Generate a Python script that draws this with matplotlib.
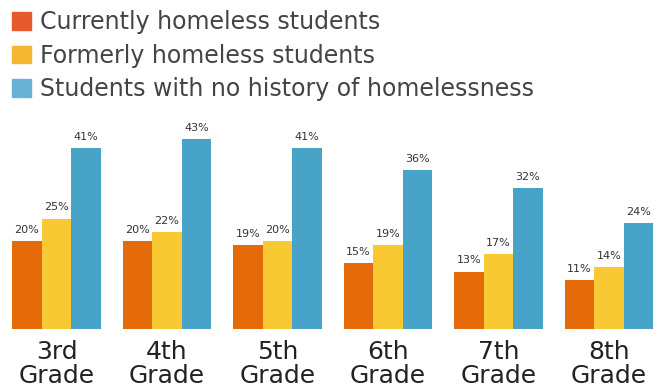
import numpy as np
import matplotlib.pyplot as plt
from matplotlib.patches import Patch

# data
grades = ["3rd\nGrade", "4th\nGrade", "5th\nGrade", "6th\nGrade", "7th\nGrade", "8th\nGrade"]
current = [20, 20, 19, 15, 13, 11]
former = [25, 22, 20, 19, 17, 14]
never = [41, 43, 41, 36, 32, 24]
series_names = ["Currently homeless students", "Formerly homeless students",
                "Students with no history of homelessness"]

bar_colors = ["#E56B0A", "#F9C933", "#47A3C8"]
legend_colors = ["#E55B2F", "#F5B731", "#6AB2D4"]
text_color = "#333333"

fig = plt.figure(figsize=(6.61, 3.88), dpi=100)
ax = fig.add_axes([0, 59 / 388, 1, 329 / 388])

x = np.arange(len(grades))
w = 0.267
for k, vals in enumerate([current, former, never]):
    pos = x + (k - 1) * w
    bars = ax.bar(pos, vals, width=w, color=bar_colors[k], linewidth=0)
    for b, v in zip(bars, vals):
        ax.annotate(f"{v}%", (b.get_x() + b.get_width() / 2, v),
                    xytext=(0, 4.5), textcoords="offset points",
                    ha="center", va="bottom", fontsize=8, color=text_color)

ax.set_xlim(-56.5 / 110.5, (661 - 56.5) / 110.5)
ax.set_ylim(0, 329 / 4.41)
ax.set_xticks(x)
ax.set_xticklabels(grades, fontsize=18, color="#222222", linespacing=1.0)
ax.tick_params(axis="x", length=0, pad=8)
ax.set_yticks([])
for s in ax.spines.values():
    s.set_visible(False)

handles = [Patch(color=c, label=n) for c, n in zip(legend_colors, series_names)]
fig.legend(handles=handles, loc="upper left", bbox_to_anchor=(-0.003, 1.01),
           frameon=False, fontsize=17, handlelength=0.78, handleheight=0.78,
           handletextpad=0.4, labelspacing=0.4, borderaxespad=0.2,
           labelcolor="#444444")

fig.savefig("out.png", dpi=100)
